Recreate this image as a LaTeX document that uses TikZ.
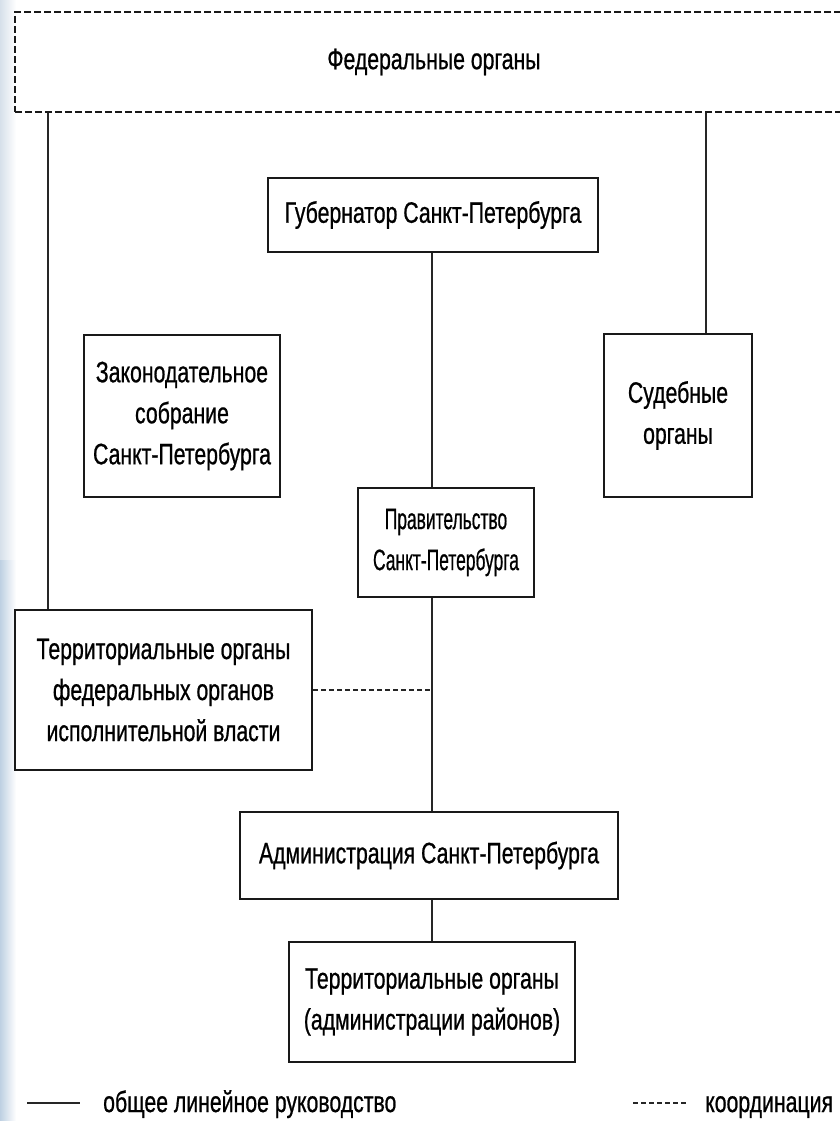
\documentclass[tikz,border=0pt]{standalone}
\usepackage{fontspec}
\usepackage{graphicx}
\setmainfont{Liberation Sans}[FakeStretch=0.72,FakeBold=0.7]
\usetikzlibrary{calc}
\newcommand{\narrowtxt}[1]{\scalebox{0.82}[1]{#1}}
\tikzset{
  box/.style={draw=black!90, line width=2.4bp, rectangle, align=center, inner sep=0pt,
    font=\fontsize{29.5bp}{41bp}\selectfont, text=black},
  fedbox/.style={box, dash pattern=on 7bp off 3bp, line width=2.6bp},
  conn/.style={draw=black!85, line width=1.9bp},
  coord/.style={draw=black!85, line width=2bp, dash pattern=on 5bp off 3bp},
  legtext/.style={anchor=base west, inner sep=0pt, font=\fontsize{29.5bp}{30bp}\selectfont, text=black}
}
\begin{document}
\begin{tikzpicture}[x=1bp,y=-1bp]
\useasboundingbox (0,0) rectangle (840,1121);
\clip (0,0) rectangle (840,1121);
\fill[white] (0,0) rectangle (840,1121);
\shade[left color={rgb,255:red,214;green,224;blue,234}, right color=white] (0,0) rectangle (16,560);
\shade[left color={rgb,255:red,190;green,208;blue,226}, right color=white] (0,560) rectangle (16,1121);

% nodes
\node[fedbox, minimum width=838bp, minimum height=100bp] (fed) at (434,62) {Федеральные органы};
\node[box, minimum width=330bp, minimum height=74bp] (gov) at (433,215) {Губернатор Санкт-Петербурга};
\node[box, minimum width=196bp, minimum height=162bp] (leg) at (182,416) {Законодательное\\собрание\\Санкт-Петербурга};
\node[box, minimum width=148bp, minimum height=163bp] (sud) at (678,415.5) {Судебные\\органы};
\node[box, minimum width=176bp, minimum height=109bp] (prav) at (446,542.5) {\narrowtxt{Правительство}\\\narrowtxt{Санкт-Петербурга}};
\node[box, minimum width=297bp, minimum height=160bp] (terfed) at (163.5,690) {Территориальные органы\\федеральных органов\\исполнительной власти};
\node[box, minimum width=378bp, minimum height=87bp] (adm) at (429,855.5) {Администрация Санкт-Петербурга};
\node[box, minimum width=286bp, minimum height=120bp] (terr) at (432,1002) {Территориальные органы\\(администрации районов)};

% connectors
\draw[conn] ([xshift=34bp]fed.south west) -- ([xshift=34bp]fed.south west |- terfed.north);
\draw[conn] ([xshift=28bp]sud.north) -- ([xshift=28bp]sud.north |- fed.south);
\draw[conn] ([xshift=-1bp]gov.south) -- ([xshift=-1bp]gov.south |- prav.north);
\draw[conn] ([xshift=-1bp]gov.south |- prav.south) -- ([xshift=-1bp]gov.south |- adm.north);
\draw[conn] ([xshift=-1bp]gov.south |- adm.south) -- ([xshift=-1bp]gov.south |- terr.north);
\draw[coord] (terfed.east) -- ([xshift=-1bp]gov.south |- terfed.east);

% legend
\coordinate (l1a) at (27,1103);
\coordinate (l1b) at (80,1103);
\draw[conn] (l1a) -- (l1b);
\node[legtext] (l1t) at (103,1112) {общее линейное руководство};
\coordinate (l2a) at (633,1103);
\coordinate (l2b) at (688,1103);
\draw[coord] (l2a) -- (l2b);
\node[legtext] (l2t) at (705,1112) {координация};
\end{tikzpicture}
\end{document}
